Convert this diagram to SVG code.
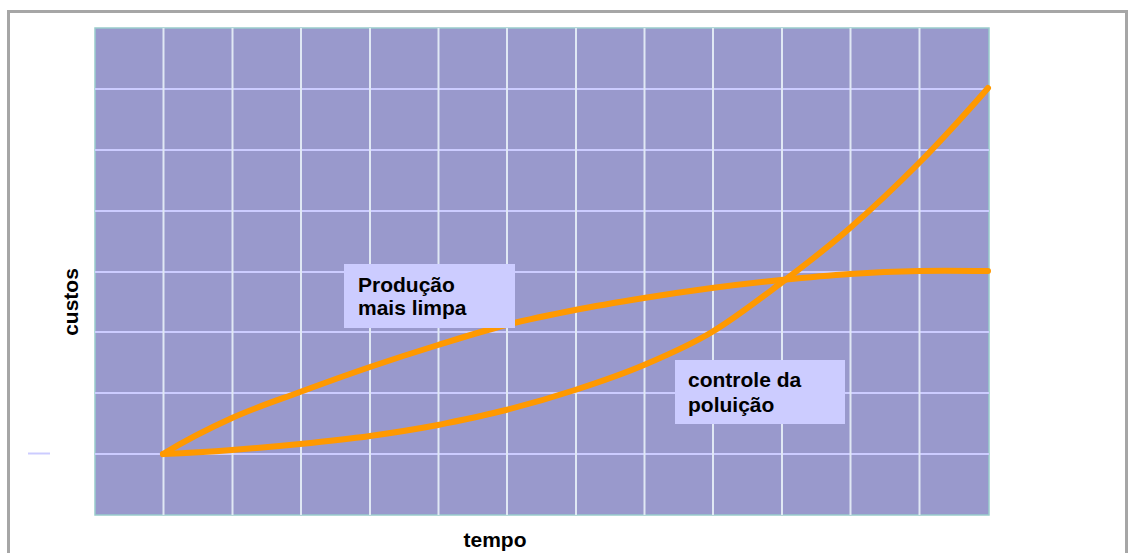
<svg xmlns="http://www.w3.org/2000/svg" width="1128" height="553" viewBox="0 0 1128 553">
<style>
.lbl{font-family:"Liberation Sans",Arial,sans-serif;font-weight:bold;font-size:21px;fill:#000}
.ax{font-family:"Liberation Sans",Arial,sans-serif;font-weight:bold;font-size:21px;fill:#000}
.gh{stroke:#ccccff;stroke-width:2}
.gv{stroke:#e0e8f4;stroke-width:2}
.curve{fill:none;stroke:#ff9900;stroke-width:6;stroke-linecap:round;stroke-linejoin:round}
.box{fill:#ccccff}
</style>
<rect x="0" y="0" width="1128" height="553" fill="#ffffff"/>
<path d="M8.5 553 V11.5 H1126.5 V553" fill="none" stroke="#a6a6a6" stroke-width="3"/>
<g id="plot">
<rect x="95" y="28" width="894" height="487" fill="#9999cc" stroke="#99cccc" stroke-width="1.5"/>
<g>
<line class="gh" x1="95" y1="89" x2="989" y2="89"/>
<line class="gh" x1="95" y1="150" x2="989" y2="150"/>
<line class="gh" x1="95" y1="211" x2="989" y2="211"/>
<line class="gh" x1="95" y1="272" x2="989" y2="272"/>
<line class="gh" x1="95" y1="332" x2="989" y2="332"/>
<line class="gh" x1="95" y1="393" x2="989" y2="393"/>
<line class="gh" x1="95" y1="454" x2="989" y2="454"/>
<line class="gv" x1="163.5" y1="28" x2="163.5" y2="515"/>
<line class="gv" x1="232.5" y1="28" x2="232.5" y2="515"/>
<line class="gv" x1="301" y1="28" x2="301" y2="515"/>
<line class="gv" x1="370" y1="28" x2="370" y2="515"/>
<line class="gv" x1="438.5" y1="28" x2="438.5" y2="515"/>
<line class="gv" x1="507" y1="28" x2="507" y2="515"/>
<line class="gv" x1="576" y1="28" x2="576" y2="515"/>
<line class="gv" x1="644.5" y1="28" x2="644.5" y2="515"/>
<line class="gv" x1="713" y1="28" x2="713" y2="515"/>
<line class="gv" x1="782" y1="28" x2="782" y2="515"/>
<line class="gv" x1="850.5" y1="28" x2="850.5" y2="515"/>
<line class="gv" x1="919.5" y1="28" x2="919.5" y2="515"/>
</g>
</g>
<line x1="28" y1="453.5" x2="50" y2="453.5" stroke="#ccccff" stroke-width="2"/>
<g id="connectors">
<path id="curve-limpa" class="curve" d="M163 454 C186 440 209.2 428.3 232 418 C254.8 407.7 277 400.5 300 392 C323 383.5 347 374.8 370 367 C393 359.2 415.3 352 438 345 C460.7 338 483.2 330.8 506 325 C528.8 319.2 552 314.5 575 310 C598 305.5 621.2 301.7 644 298 C666.8 294.3 689.2 291 712 288 C734.8 285 758 282.3 781 280 C804 277.7 827 275.5 850 274 C873 272.5 895.8 271.5 919 271 C942.2 270.5 977.3 271 988 271"/>
<path id="curve-controle" class="curve" d="M163 454 C186 453 209.2 451.7 232 450 C254.8 448.3 277 446.3 300 444 C323 441.7 347 439.2 370 436 C393 432.8 415.3 429.3 438 425 C460.7 420.3 483.2 415.8 506 410 C528.8 404.2 552 397.5 575 390 C598 382.5 621.2 374.7 644 365 C666.8 355.3 689.2 345.7 712 332 C734.8 318.3 758 300.3 781 283 C804 265.7 827 248 850 228 C873 208 895.8 186.3 919 163 C942.2 139.7 977.3 100.5 988 88"/>
</g>
<g id="node-producao">
<rect class="box" x="344" y="264" width="171" height="64"/>
<text class="lbl" x="358" y="292">Produção</text>
<text class="lbl" x="358" y="315">mais limpa</text>
</g>
<g id="node-controle">
<rect class="box" x="675" y="360" width="170" height="64"/>
<text class="lbl" x="688" y="387">controle da</text>
<text class="lbl" x="688" y="412">poluição</text>
</g>
<g id="axis-labels">
<text class="ax" x="495" y="547" text-anchor="middle">tempo</text>
<text class="ax" transform="translate(78,302) rotate(-90)" text-anchor="middle">custos</text>
</g>
</svg>
